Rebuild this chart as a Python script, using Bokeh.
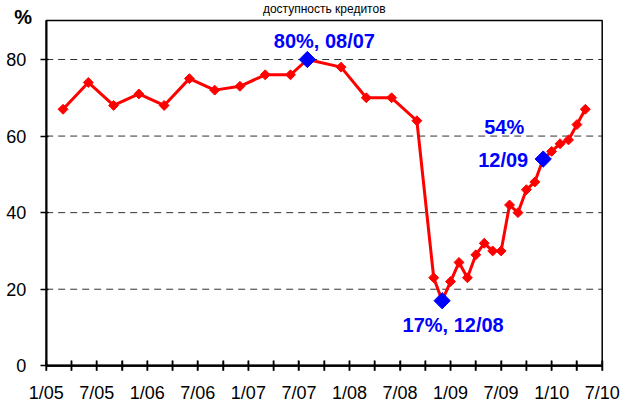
from bokeh.plotting import figure
from bokeh.models import Range1d, FixedTicker, Label
from bokeh.embed import file_html
from bokeh.resources import INLINE
import math

# Data: months since Jan 2005, loan availability (%)
months = [2, 5, 8, 11, 14, 17, 20, 23, 26, 29, 31, 35, 38, 41, 44,
          46, 47, 48, 49, 50, 51, 52, 53, 54, 55, 56, 57, 58, 59, 60, 61, 62, 63, 64]
values = [67, 74, 68, 71, 68, 75, 72, 73, 76, 76, 80, 78, 70, 70, 64,
          23, 17, 22, 27, 23, 29, 32, 30, 30, 42, 40, 46, 48, 54, 56, 58, 59, 63, 67]

hl_months = [31, 47, 59]
hl_values = [80, 17, 54]

tick_months = [0, 6, 12, 18, 24, 30, 36, 42, 48, 54, 60, 66]
tick_labels = ["1/05", "7/05", "1/06", "7/06", "1/07", "7/07",
               "1/08", "7/08", "1/09", "7/09", "1/10", "7/10"]
minor_months = [3, 9, 15, 21, 27, 33, 39, 45, 51, 57, 63]
y_ticks = [0, 20, 40, 60, 80]
grid_values = [20, 40, 60, 80]

title_text = "доступность кредитов"
FONT = "Liberation Sans"

# axis extents (data)
X_MIN, X_MAX = 0, 66
Y_MIN, Y_MAX = 0, 90.2

# layout (pixels): the frame covers the whole canvas, axes are pinned
W, H = 622, 403
X0_PX, X1_PX = 45.7, 601.7     # canvas x of Jan 2005 and Jul 2010
Y0_PX, Y80_PX = 365.3, 59.0    # canvas y of 0 % and 80 %
TICK_PX = 5
px_per_month = (X1_PX - X0_PX) / (X_MAX - X_MIN)
px_per_unit = (Y0_PX - Y80_PX) / 80.0
x_start = X_MIN - X0_PX / px_per_month
x_end = X_MIN + (W - X0_PX) / px_per_month
y_start = Y_MIN - (H - Y0_PX) / px_per_unit
y_end = Y_MIN + Y0_PX / px_per_unit
tick_len = TICK_PX / px_per_unit

p = figure(width=W, height=H, output_backend="svg", toolbar_location=None,
           x_range=Range1d(x_start, x_end), y_range=Range1d(y_start, y_end),
           min_border=0,
           background_fill_color="white", border_fill_color="white")

p.outline_line_color = None
p.xgrid.grid_line_color = None
p.ygrid.grid_line_color = None

# dashed horizontal gridlines
p.segment(x0=[X_MIN] * len(grid_values), y0=grid_values,
          x1=[X_MAX] * len(grid_values), y1=grid_values,
          line_color="#333333", line_dash="7 5", line_width=1)

# plot-area border
p.quad(left=[X_MIN], right=[X_MAX], bottom=[Y_MIN], top=[Y_MAX],
       fill_color=None, line_color="black", line_width=1.5)

# x axis, pinned at y = 0
xa = p.xaxis[0]
xa.fixed_location = Y_MIN
xa.bounds = (X_MIN, X_MAX)
xa.ticker = FixedTicker(ticks=tick_months, minor_ticks=minor_months)
xa.major_label_overrides = {m: l for m, l in zip(tick_months, tick_labels)}
xa.major_label_text_font = FONT
xa.major_label_text_font_size = "18px"
xa.major_label_text_color = "black"
xa.major_label_standoff = 12
xa.axis_line_color = "black"
xa.axis_line_width = 2
xa.major_tick_line_color = "black"
xa.major_tick_line_width = 1.5
xa.major_tick_in = TICK_PX
xa.major_tick_out = TICK_PX
xa.minor_tick_line_color = "black"
xa.minor_tick_line_width = 1.5
xa.minor_tick_in = TICK_PX
xa.minor_tick_out = TICK_PX

# baseline and crossing tick marks along the x axis (drawn from the tick lists)
all_ticks = sorted(tick_months + minor_months)
p.segment(x0=[X_MIN], y0=[Y_MIN], x1=[X_MAX], y1=[Y_MIN],
          line_color="black", line_width=2)
p.segment(x0=all_ticks, y0=[Y_MIN - tick_len] * len(all_ticks),
          x1=all_ticks, y1=[Y_MIN + tick_len] * len(all_ticks),
          line_color="black", line_width=1.5)

# y axis, pinned at x = 0 (Jan 2005)
ya = p.yaxis[0]
ya.fixed_location = X_MIN
ya.bounds = (Y_MIN, Y_MAX)
ya.ticker = FixedTicker(ticks=y_ticks)
ya.major_label_text_font = FONT
ya.major_label_text_font_size = "18px"
ya.major_label_text_color = "black"
ya.major_label_standoff = 14
ya.axis_line_color = "black"
ya.axis_line_width = 2
ya.major_tick_line_color = "black"
ya.major_tick_line_width = 1.5
ya.major_tick_in = 2
ya.major_tick_out = 6
ya.minor_tick_line_color = None

# series
p.line(months, values, line_color="#FF0000", line_width=3)
p.scatter(months, values, marker="square", size=7, angle=math.pi / 4,
          fill_color="#FF0000", line_color="#FF0000")
p.scatter(hl_months, hl_values, marker="square", size=11.5, angle=math.pi / 4,
          fill_color="#0000FF", line_color="#0000FF")

blue = "#0000FF"
def ann(x, y, text, dx, dy, align="center"):
    p.add_layout(Label(x=x, y=y, text=text, x_offset=dx, y_offset=dy,
                       text_align=align, text_baseline="middle",
                       text_font=FONT, text_font_size="20px", text_font_style="bold",
                       text_color=blue))

ann(hl_months[0], hl_values[0], "80%, 08/07", 17, 19)
ann(hl_months[1], hl_values[1], "17%, 12/08", 11, -24)
ann(hl_months[2], hl_values[2], "54%", -39, 32)
ann(hl_months[2], hl_values[2], "12/09", -15, -1, align="right")

# "%" unit label, just above the y axis
p.add_layout(Label(x=X_MIN, y=Y_MAX, text="%", x_offset=-23, y_offset=3,
                   text_align="center", text_baseline="middle",
                   text_font=FONT, text_font_size="20px", text_font_style="bold",
                   text_color="black"))

# title (cut off in the reference; kept small and fully visible at the top)
p.add_layout(Label(x=(X_MIN + X_MAX) / 2, y=Y_MAX, text=title_text, y_offset=18,
                   text_align="center", text_baseline="top",
                   text_font=FONT, text_font_size="12px", text_color="black"))

open("out.html", "w").write(file_html(p, INLINE))
